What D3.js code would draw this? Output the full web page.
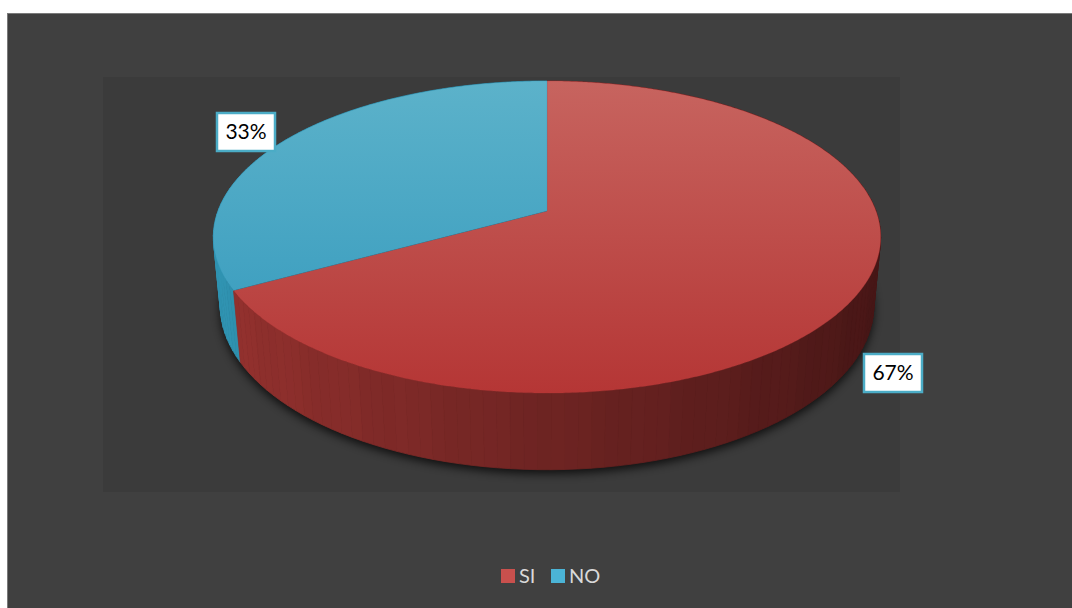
<!DOCTYPE html>
<html>
<head>
<meta charset="utf-8">
<script src="https://cdn.jsdelivr.net/npm/d3@7/dist/d3.min.js"></script>
<style>
  html, body { margin: 0; padding: 0; background: #ffffff; }
  svg { display: block; }
</style>
</head>
<body>
<svg id="chart" width="1072" height="608"></svg>
<script>
// Survey answers
const categories = ["SI", "NO"];
const values = [67, 33];

// Slice styling
const topColors = {
  SI: ["rgb(199,100,95)", "rgb(181,54,53)"],
  NO: ["rgb(92,178,202)", "rgb(50,152,188)"]
};
const wallLight = { SI: [150, 50, 47], NO: [48, 148, 178] };
const wallDark  = { SI: [68, 21, 21],  NO: [22, 85, 108] };
const legendColors = { SI: "#c9504d", NO: "#4bb4d6" };

const svg = d3.select("#chart");
const defs = svg.append("defs");

// Chart frame and plot area
svg.append("rect")
  .attr("x", 7.5).attr("y", 13.5)
  .attr("width", 1080).attr("height", 610)
  .attr("fill", "#404040").attr("stroke", "#7a7a7a").attr("stroke-width", 1);
svg.append("rect")
  .attr("x", 103).attr("y", 77)
  .attr("width", 797).attr("height", 415)
  .attr("fill", "#3b3b3b");

// Perspective projection of a tilted disk
const cx = 547, cy = 211;
const R = 329, H = 78;
const tilt = Math.asin(151.7 / R);
const sinT = Math.sin(tilt), cosT = Math.cos(tilt);
const D = 6 * R * cosT;

function project(angle, r, z) {
  const X = r * Math.sin(angle);
  const Y = -r * Math.cos(angle);
  const yp = Y * sinT - z * cosT;
  const zp = Y * cosT + z * sinT;
  const s = D / (D - zp);
  return [cx + X * s, cy + yp * s, zp];
}

const pie = d3.pie().sort(null).value(d => d.value);
const arcs = pie(categories.map((c, i) => ({ cat: c, value: values[i] })));
const total = d3.sum(values);

// Soft shadow under the pie
const blur = defs.append("filter").attr("id", "shadowBlur")
  .attr("x", "-20%").attr("y", "-20%").attr("width", "140%").attr("height", "140%");
blur.append("feGaussianBlur").attr("stdDeviation", 5);

const rim = d3.range(0, 361, 2).map(a => project(a * Math.PI / 180, R, -H));
svg.append("path")
  .attr("d", d3.line()(rim.map(p => [p[0], p[1] + 4])) + "Z")
  .attr("fill", "#000").attr("opacity", 0.75)
  .attr("filter", "url(#shadowBlur)");

// Outer walls, drawn back to front in thin bands
const segs = [];
const step = 2 * Math.PI / 180;
arcs.forEach(d => {
  const n = Math.max(1, Math.ceil((d.endAngle - d.startAngle) / step));
  for (let i = 0; i < n; i++) {
    const a0 = d.startAngle + (d.endAngle - d.startAngle) * i / n;
    const a1 = d.startAngle + (d.endAngle - d.startAngle) * (i + 1) / n;
    const am = (a0 + a1) / 2;
    const depth = project(am, R, -H / 2)[2];
    segs.push({ cat: d.data.cat, a0, a1, am, depth });
  }
});
segs.sort((a, b) => a.depth - b.depth);

function wallColor(s) {
  const f = Math.max(0, Math.min(1, 0.5 * (1 - Math.sin(s.am))));
  const band = (Math.floor(s.am / (6 * Math.PI / 180)) % 2) ? 0.025 : 0;
  const lo = wallDark[s.cat], hi = wallLight[s.cat];
  const t = Math.min(1, f + band);
  return d3.rgb(lo[0] + (hi[0] - lo[0]) * t, lo[1] + (hi[1] - lo[1]) * t, lo[2] + (hi[2] - lo[2]) * t);
}

svg.append("g").selectAll("path").data(segs).join("path")
  .attr("d", s => {
    const p = [project(s.a0, R, 0), project(s.a1, R, 0), project(s.a1, R, -H), project(s.a0, R, -H)];
    return d3.line()(p.map(q => [q[0], q[1]])) + "Z";
  })
  .attr("fill", wallColor)
  .attr("stroke", wallColor)
  .attr("stroke-width", 0.8)
  .attr("stroke-linejoin", "round");

// Top faces with a vertical gradient
arcs.forEach(d => {
  const g = defs.append("linearGradient").attr("id", "top-" + d.data.cat)
    .attr("gradientUnits", "userSpaceOnUse")
    .attr("x1", 0).attr("y1", 81).attr("x2", 0).attr("y2", 393);
  g.append("stop").attr("offset", "0%").attr("stop-color", topColors[d.data.cat][0]);
  g.append("stop").attr("offset", "100%").attr("stop-color", topColors[d.data.cat][1]);
});

svg.append("g").selectAll("path").data(arcs).join("path")
  .attr("d", d => {
    const pts = [[cx, cy]];
    const n = Math.ceil((d.endAngle - d.startAngle) / (0.5 * Math.PI / 180));
    for (let i = 0; i <= n; i++) {
      const a = d.startAngle + (d.endAngle - d.startAngle) * i / n;
      const p = project(a, R, 0);
      pts.push([p[0], p[1]]);
    }
    return d3.line()(pts) + "Z";
  })
  .attr("fill", d => "url(#top-" + d.data.cat + ")")
  .attr("stroke", d => topColors[d.data.cat][1])
  .attr("stroke-width", 0.3);

// Percentage labels
const labelPos = { NO: [246, 132], SI: [893, 373] };
const fmt = d3.format(".0%");
const labels = svg.append("g").selectAll("g").data(arcs).join("g")
  .attr("transform", d => `translate(${labelPos[d.data.cat][0]},${labelPos[d.data.cat][1]})`);
labels.append("rect")
  .attr("x", -29).attr("y", -19).attr("width", 58).attr("height", 38)
  .attr("fill", "#ffffff").attr("stroke", "#4bacc6").attr("stroke-width", 2.5);
labels.append("text")
  .attr("text-anchor", "middle").attr("dy", "0.35em")
  .attr("font-family", "Lato, 'Open Sans', sans-serif").attr("font-size", 21)
  .attr("fill", "#000")
  .text(d => fmt(d.data.value / total));

// Legend
const legendX = { SI: 501, NO: 551 };
const legend = svg.append("g").selectAll("g").data(categories).join("g")
  .attr("transform", c => `translate(${legendX[c]},569)`);
legend.append("rect")
  .attr("width", 14).attr("height", 14)
  .attr("fill", c => legendColors[c]);
legend.append("text")
  .attr("x", 18).attr("y", 7).attr("dy", "0.36em")
  .attr("font-family", "Lato, 'Open Sans', sans-serif").attr("font-size", 20)
  .attr("fill", "#d9d9d9")
  .text(c => c);
</script>
</body>
</html>
